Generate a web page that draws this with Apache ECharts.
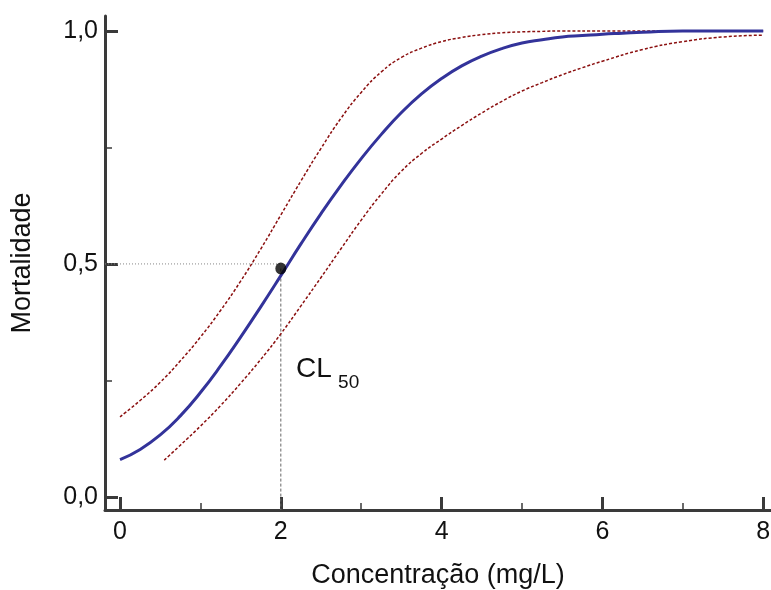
<!DOCTYPE html>
<html><head><meta charset="utf-8">
<script src="https://cdn.jsdelivr.net/npm/echarts@6/dist/echarts.min.js"></script>
<style>html,body{margin:0;padding:0;background:#fff}#c{width:771px;height:590px}</style>
</head><body><div id="c"></div>
<script>
// ---- data ----
const xTicks = [0, 2, 4, 6, 8];
const xMinorTicks = [1, 3, 5, 7];
const yTicks = [0, 0.5, 1];
const yMinorTicks = [0.25, 0.75];
const yTickLabels = ['0,0', '0,5', '1,0'];

const fitX = [0, 0.25, 0.5, 0.75, 1.0, 1.25, 1.5, 1.75, 2.0, 2.25, 2.5, 2.75, 3.0, 3.25, 3.5, 3.75, 4.0, 4.25, 4.5, 4.75, 5.0, 5.25, 5.5, 5.75, 6.0, 6.25, 6.5, 7.0, 7.5, 8.0];
const fitY = [0.080, 0.102, 0.133, 0.174, 0.224, 0.281, 0.343, 0.408, 0.475, 0.543, 0.608, 0.669, 0.726, 0.778, 0.825, 0.865, 0.898, 0.925, 0.946, 0.962, 0.974, 0.981, 0.987, 0.990, 0.993, 0.995, 0.997, 1.0, 1.0, 1.0];

const upperX = [0, 0.25, 0.5, 0.75, 1.0, 1.25, 1.5, 1.75, 2.0, 2.25, 2.5, 2.75, 3.0, 3.25, 3.5, 3.75, 4.0, 4.25, 4.5, 4.75, 5.0, 5.25, 5.5, 6.0, 7.0, 8.0];
const upperY = [0.172, 0.207, 0.246, 0.292, 0.343, 0.400, 0.463, 0.532, 0.605, 0.678, 0.748, 0.813, 0.868, 0.912, 0.943, 0.963, 0.977, 0.986, 0.992, 0.996, 0.998, 0.999, 1.0, 1.0, 1.0, 1.0];

const lowerX = [0.55, 0.75, 1.0, 1.25, 1.5, 1.75, 2.0, 2.25, 2.5, 2.75, 3.0, 3.25, 3.5, 3.75, 4.0, 4.25, 4.5, 4.75, 5.0, 5.25, 5.5, 5.75, 6.0, 6.5, 7.0, 7.5, 8.0];
const lowerY = [0.079, 0.111, 0.152, 0.196, 0.244, 0.295, 0.350, 0.410, 0.471, 0.533, 0.594, 0.650, 0.699, 0.737, 0.768, 0.797, 0.824, 0.849, 0.871, 0.889, 0.906, 0.921, 0.935, 0.960, 0.977, 0.987, 0.991];

const lc50Point = [2.0, 0.49];
const lc50Level = 0.5;
const clLabelPos = [2.19, 0.274];

const xMin = -0.187, xMax = 8.097;
const yMin = -0.028, yMax = 1.032;

// ---- chart ----
const zip = (xs, ys) => xs.map((x, i) => [x, ys[i]]);
const FONT = 'Liberation Sans, Arial, sans-serif';
const AX = '#3a3a3a';
const chart = echarts.init(document.getElementById('c'), null, {renderer: 'canvas'});

const labelStyle = {color: '#111', fontSize: 25, fontFamily: FONT};
const SMOOTH = 0.5;

chart.setOption({
  animation: false,
  backgroundColor: '#fff',
  grid: {left: 105, right: 0, top: 16, bottom: 80, containLabel: false, outerBoundsMode: 'none'},
  xAxis: [
    {
      type: 'value', min: xMin, max: xMax, position: 'bottom',
      name: 'Concentração (mg/L)', nameLocation: 'middle', nameGap: 52,
      nameTextStyle: {color: '#111', fontSize: 27, fontFamily: FONT},
      splitLine: {show: false},
      axisLine: {show: true, onZero: false, lineStyle: {color: AX, width: 3}},
      axisTick: {show: true, inside: true, length: 13, customValues: xTicks, lineStyle: {color: AX, width: 3}},
      axisLabel: {show: true, customValues: xTicks, margin: 10, ...labelStyle, formatter: v => String(v)}
    },
    {
      type: 'value', min: xMin, max: xMax, position: 'bottom', offset: 0,
      splitLine: {show: false},
      axisLine: {show: false, onZero: false},
      axisTick: {show: true, inside: true, length: 7, customValues: xMinorTicks, lineStyle: {color: AX, width: 1.5}},
      axisLabel: {show: false}
    }
  ],
  yAxis: [
    {
      type: 'value', min: yMin, max: yMax, position: 'left',
      name: 'Mortalidade', nameLocation: 'middle', nameGap: 69, nameRotate: 90,
      nameTextStyle: {color: '#111', fontSize: 27, fontFamily: FONT},
      splitLine: {show: false},
      axisLine: {show: true, onZero: false, lineStyle: {color: AX, width: 3}},
      axisTick: {show: true, inside: true, length: 13, customValues: yTicks, lineStyle: {color: AX, width: 3}},
      axisLabel: {show: true, customValues: yTicks, margin: 7, ...labelStyle,
        formatter: v => { const i = yTicks.findIndex(t => Math.abs(t - v) < 1e-6); return i >= 0 ? yTickLabels[i] : ''; }}
    },
    {
      type: 'value', min: yMin, max: yMax, position: 'left', offset: 0,
      splitLine: {show: false},
      axisLine: {show: false, onZero: false},
      axisTick: {show: true, inside: true, length: 7, customValues: yMinorTicks, lineStyle: {color: AX, width: 1.5}},
      axisLabel: {show: false}
    }
  ],
  series: [
    {
      type: 'line', name: 'guideH', silent: true, symbol: 'none',
      data: [[xMin, lc50Level], [lc50Point[0], lc50Level]],
      lineStyle: {color: '#888', width: 1, type: [1, 2]}
    },
    {
      type: 'line', name: 'guideV', silent: true, symbol: 'none',
      data: [[lc50Point[0], lc50Point[1]], [lc50Point[0], yMin]],
      lineStyle: {color: '#666', width: 1, type: [3, 2]}
    },
    {
      type: 'line', name: 'upper', smooth: SMOOTH, symbol: 'none',
      data: zip(upperX, upperY),
      lineStyle: {color: '#8b1010', width: 1.5, type: [3, 2]}
    },
    {
      type: 'line', name: 'lower', smooth: SMOOTH, symbol: 'none',
      data: zip(lowerX, lowerY),
      lineStyle: {color: '#8b1010', width: 1.5, type: [3, 2]}
    },
    {
      type: 'line', name: 'fit', smooth: SMOOTH, symbol: 'none',
      data: zip(fitX, fitY),
      lineStyle: {color: '#33339a', width: 3}
    },
    {
      type: 'scatter', name: 'CL50', symbol: 'circle', symbolSize: [11, 12],
      data: [lc50Point],
      itemStyle: {color: '#000'}, z: 5
    }
  ]
});

const p = chart.convertToPixel({gridIndex: 0}, clLabelPos);
chart.setOption({
  graphic: [
    {type: 'text', x: p[0], y: p[1], style: {text: 'CL', fill: '#111', font: '28px ' + FONT, align: 'left', verticalAlign: 'middle'}},
    {type: 'text', x: p[0] + 42, y: p[1] + 14, style: {text: '50', fill: '#111', font: '19px ' + FONT, align: 'left', verticalAlign: 'middle'}}
  ]
});
</script>
</body></html>
